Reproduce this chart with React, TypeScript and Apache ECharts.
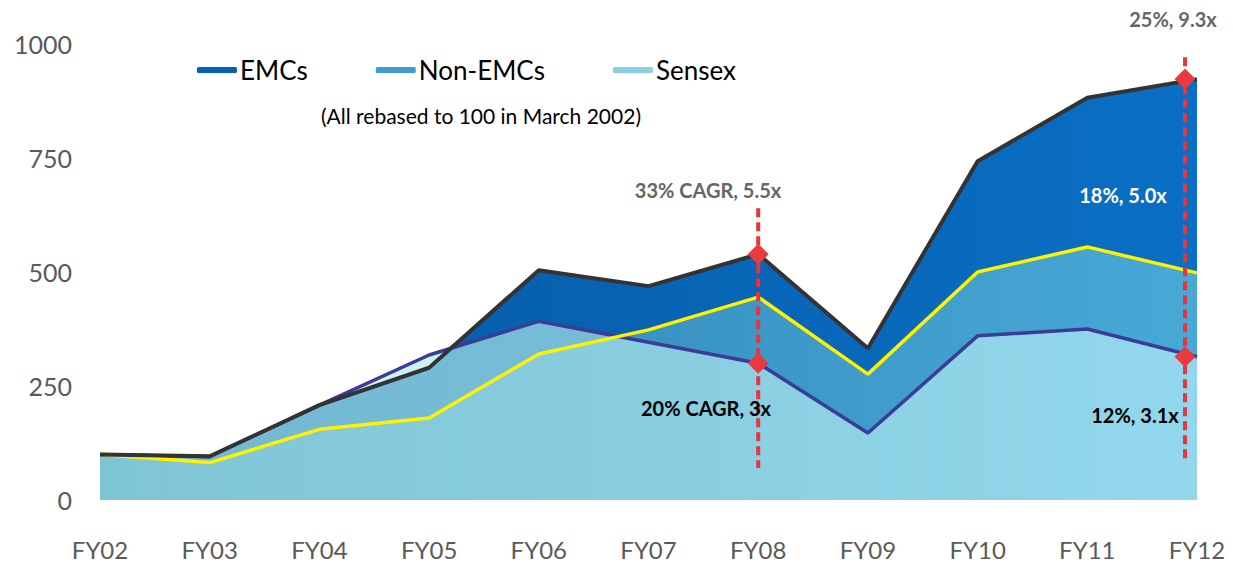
import React, { useEffect, useRef } from "react";
import * as echarts from "echarts";

const categories = ["FY02", "FY03", "FY04", "FY05", "FY06", "FY07", "FY08", "FY09", "FY10", "FY11", "FY12"];
const emcs = [100, 96, 208, 290, 504, 469, 539, 333, 743, 882, 923];
const nonEmcs = [100, 82, 155, 180, 320, 373, 445, 276, 500, 555, 498];
const sensex = [100, 95, 208, 318, 392, 346, 300, 147, 360, 375, 314];
const yTicks = [0, 250, 500, 750, 1000];
const legendNames = ["EMCs", "Non-EMCs", "Sensex"];
// diamond markers: [category, value]
const markerPoints: [string, number][] = [["FY08", 539], ["FY08", 300], ["FY12", 923], ["FY12", 314]];
// dashed guides: [category, fromValue, toValue]
const dashedGuides: [string, number, number][] = [["FY08", 640, 70], ["FY12", 971, 81]];
const subtitle = "(All rebased to 100 in March 2002)";
const annotations = ["33% CAGR, 5.5x", "20% CAGR, 3x", "18%, 5.0x", "12%, 3.1x", "25%, 9.3x"];

const FONT = "Lato, 'Open Sans', sans-serif";

function grad(c0: string, c1: string) {
  return new echarts.graphic.LinearGradient(0, 0, 1, 0, [
    { offset: 0, color: c0 },
    { offset: 1, color: c1 },
  ]);
}

function txt(text: string, x: number, y: number, font: string, fill: string) {
  return {
    type: "text",
    x,
    y,
    z: 100,
    zlevel: 0,
    style: { text, font, fill, textAlign: "center", textVerticalAlign: "middle" },
  };
}

export default function App() {
  const ref = useRef<HTMLDivElement>(null);
  useEffect(() => {
    if (!ref.current) return;
    const chart = echarts.init(ref.current, undefined, { renderer: "svg" });
    const fy12Offset = (cat: string) => (cat === "FY12" ? -12 : 0);
    const option: any = {
      animation: false,
      grid: { left: 100, right: 36, top: 44, bottom: 66 },
      legend: {
        data: legendNames,
        left: 197,
        top: 57,
        padding: 0,
        icon: "roundRect",
        itemWidth: 40,
        itemHeight: 6,
        itemGap: 68,
        selectedMode: false,
        textStyle: { fontSize: 26, fontFamily: FONT, color: "#000", padding: [0, 0, 0, -2] },
      },
      xAxis: {
        type: "category",
        data: categories,
        boundaryGap: false,
        axisLine: { show: false },
        axisTick: { show: false },
        splitLine: { show: false },
        axisLabel: {
          fontSize: 24,
          fontWeight: "normal",
          fontFamily: "'Liberation Sans Narrow', 'Arial Narrow', Lato",
          color: "#5a5a5a",
          margin: 37,
        },
      },
      yAxis: {
        type: "value",
        min: yTicks[0],
        max: yTicks[yTicks.length - 1],
        interval: yTicks[1] - yTicks[0],
        axisLine: { show: false },
        axisTick: { show: false },
        splitLine: { show: false },
        axisLabel: {
          fontSize: 25,
          fontFamily: FONT,
          color: "#595959",
          margin: 28,
          formatter: (v: number) => String(v),
        },
      },
      series: [
        {
          name: "EMCs",
          type: "line",
          data: emcs,
          z: 1,
          showSymbol: false,
          color: "#0563b4",
          itemStyle: { color: "#0563b4" },
          lineStyle: { width: 0 },
          areaStyle: { color: grad("#0458a2", "#0a6fc4"), opacity: 1 },
        },
        {
          name: "Non-EMCs",
          type: "line",
          data: nonEmcs,
          z: 2,
          showSymbol: false,
          color: "#3d9dcc",
          itemStyle: { color: "#3d9dcc" },
          lineStyle: { width: 0 },
          areaStyle: { color: grad("#2a7eb0", "#48a9d6"), opacity: 1 },
        },
        {
          name: "Sensex",
          type: "line",
          data: sensex,
          z: 3,
          showSymbol: false,
          color: "#8ad0e2",
          itemStyle: { color: "#8ad0e2" },
          lineStyle: { width: 0 },
          areaStyle: { color: grad("#acebe8", "#baf0f7"), opacity: 0.65 },
        },
        {
          name: "Sensex line",
          type: "line",
          data: sensex,
          z: 4,
          showSymbol: false,
          lineStyle: { color: "#3b3b98", width: 3.5 },
        },
        {
          name: "Non-EMCs line",
          type: "line",
          data: nonEmcs,
          z: 5,
          showSymbol: false,
          lineStyle: { color: "#fff200", width: 3.5 },
        },
        {
          name: "EMCs line",
          type: "line",
          data: emcs,
          z: 6,
          showSymbol: false,
          lineStyle: { color: "#333333", width: 4 },
        },
        {
          name: "guides",
          type: "custom",
          z: 10,
          data: dashedGuides.map((g) => [categories.indexOf(g[0]), g[1], g[2], fy12Offset(g[0])]),
          renderItem: (_params: any, api: any) => {
            const x = api.value(0);
            const p1 = api.coord([x, api.value(1)]);
            const p2 = api.coord([x, api.value(2)]);
            const off = api.value(3) as number;
            return {
              type: "line",
              shape: { x1: p1[0] + off, y1: p1[1], x2: p2[0] + off, y2: p2[1] },
              style: { stroke: "#e8343c", lineWidth: 4, lineDash: [9, 5] },
            };
          },
        },
        {
          name: "markers",
          type: "scatter",
          z: 11,
          symbol: "diamond",
          symbolSize: 21,
          itemStyle: { color: "#ea3a40", opacity: 1 },
          data: markerPoints.map((m) => ({ value: [m[0], m[1]], symbolOffset: [fy12Offset(m[0]), 0] })),
        },
      ],
      graphic: {
        elements: [
          txt(subtitle, 481, 115, `21px ${FONT}`, "#000"),
          txt(annotations[0], 708, 190, `bold 20px ${FONT}`, "#666666"),
          txt(annotations[1], 706, 408, `bold 20px ${FONT}`, "#000000"),
          txt(annotations[2], 1123, 195, `bold 20px ${FONT}`, "#ffffff"),
          txt(annotations[3], 1135, 415, `bold 20px ${FONT}`, "#000000"),
          txt(annotations[4], 1173, 19, `bold 20px ${FONT}`, "#666666"),
        ],
      },
    };
    chart.setOption(option);
    return () => chart.dispose();
  }, []);
  return <div ref={ref} style={{ position: "absolute", left: 0, top: 0, width: 1233, height: 566 }} />;
}
